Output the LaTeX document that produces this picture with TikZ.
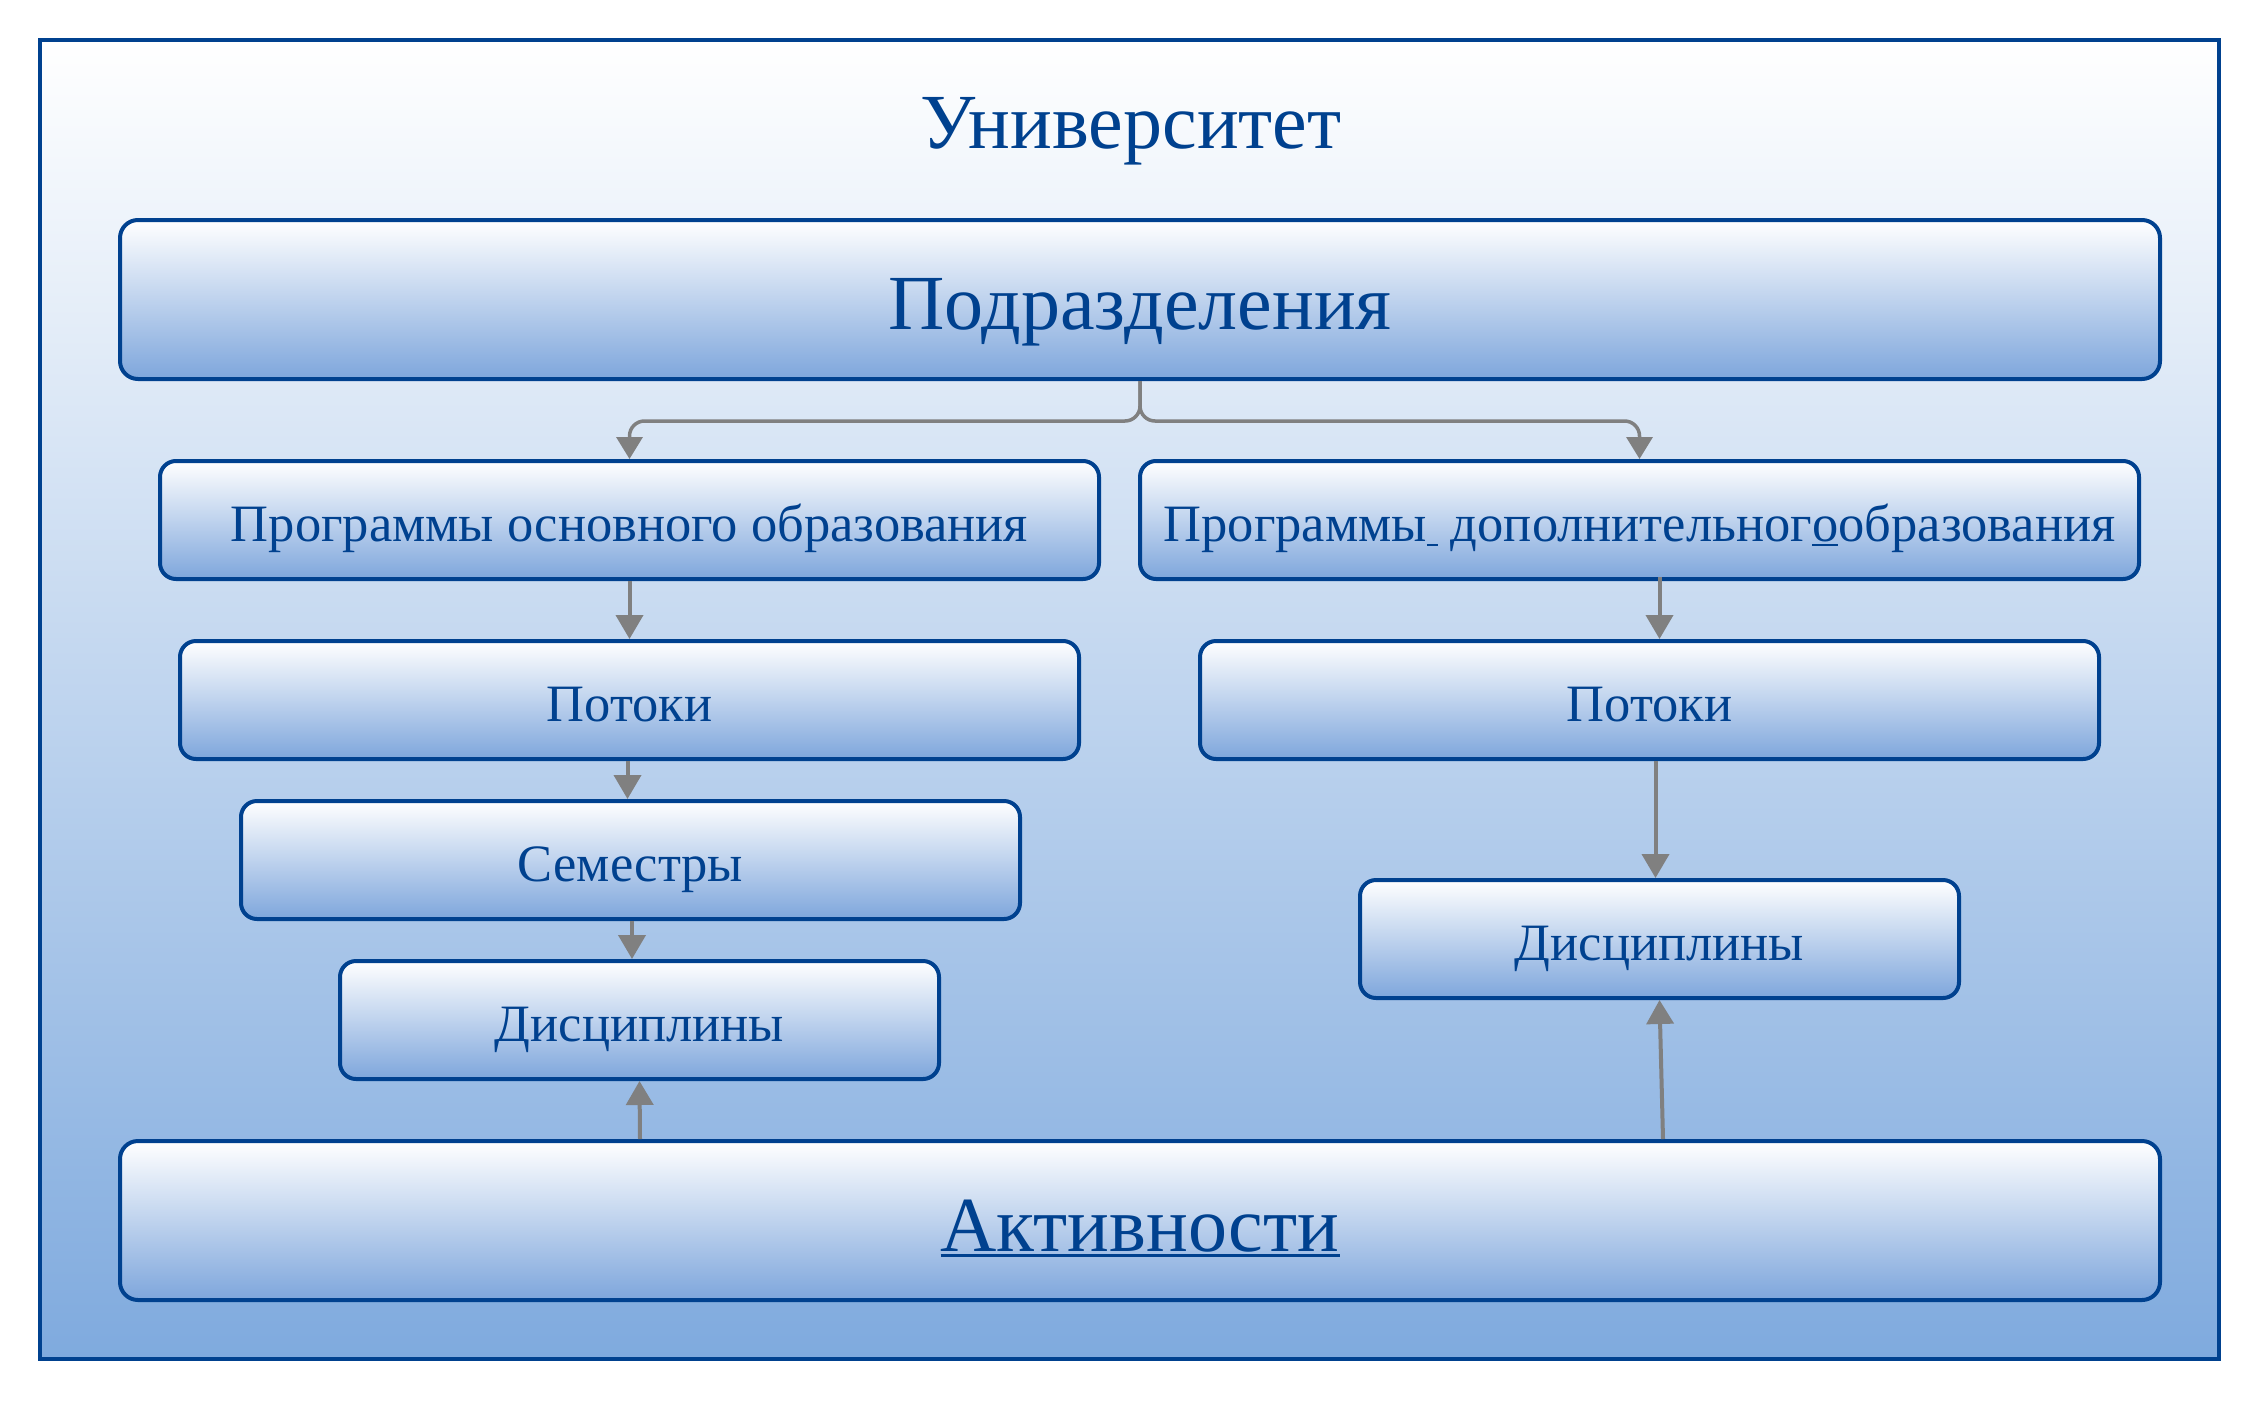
\documentclass[tikz,border=0pt]{standalone}
\usepackage{fontspec}
\setmainfont{Liberation Serif}
\usetikzlibrary{arrows.meta}
\definecolor{bdark}{RGB}{0,65,143}
\definecolor{bshade}{RGB}{126,166,220}
\definecolor{fshade}{RGB}{127,170,222}
\definecolor{conn}{RGB}{128,128,128}
\newcommand\bigf{\fontsize{78}{90}\selectfont}
\newcommand\smallf{\fontsize{52.5}{62}\selectfont}
\newcommand\myulbig[1]{\setbox0=\hbox{#1}\rlap{\rule[-5pt]{\wd0}{2.5pt}}\box0}
\newcommand\myulsmall[1]{\setbox0=\hbox{#1}\rlap{\rule[-4pt]{\wd0}{2pt}}\box0}
\tikzset{
  frame/.style={draw=bdark, line width=4pt, top color=white, bottom color=fshade, inner sep=0pt},
  bigbox/.style={draw=bdark, line width=4pt, rounded corners=18pt, top color=white, bottom color=bshade,
    inner sep=0pt, text=bdark, font=\bigf, text height=60pt, text depth=0pt},
  smallbox/.style={draw=bdark, line width=4pt, rounded corners=16pt, top color=white, bottom color=bshade,
    inner sep=0pt, text=bdark, font=\smallf, text height=43pt, text depth=0pt},
  titletext/.style={text=bdark, font=\bigf, inner sep=0pt, text height=51.6pt, text depth=0pt},
  arr/.style={draw=conn, line width=4pt, -{Triangle[width=27pt,length=24pt]}},
  brace/.style={draw=conn, line width=3.5pt, rounded corners=15pt, -{Triangle[width=26pt,length=22pt]}}
}
\begin{document}
\begin{tikzpicture}[x=1pt,y=-1pt]
\useasboundingbox (0,0) rectangle (2259,1400);
\node[frame, minimum width=2179pt, minimum height=1319pt] (univ) at (1129.5,699.5) {};
\node[titletext] (title) at (1131,123) {Университет};
\node[bigbox, minimum width=2040pt, minimum height=159pt] (pod) at (1140,299.5) {Подразделения};
\node[smallbox, minimum width=939pt, minimum height=118pt] (pl) at (629.5,520) {Программы основного образования};
\node[smallbox, minimum width=999pt, minimum height=118pt] (pr) at (1639.5,520) {Программы\myulsmall{\hspace*{11pt}}\ дополнительног\myulsmall{о}образования};
\node[smallbox, minimum width=899pt, minimum height=118pt] (potl) at (629.5,700) {Потоки};
\node[smallbox, minimum width=899pt, minimum height=118pt] (potr) at (1649.5,700) {Потоки};
\node[smallbox, minimum width=779pt, minimum height=118pt] (sem) at (630.5,860) {Семестры};
\node[smallbox, minimum width=599pt, minimum height=118pt] (dl) at (639.5,1020) {Дисциплины};
\node[smallbox, minimum width=599pt, minimum height=118pt] (dr) at (1659.5,939) {Дисциплины};
\node[bigbox, minimum width=2040pt, minimum height=159pt, text height=62pt] (act) at (1140,1220.5) {\myulbig{Активности}};
% connectors
\draw[brace] (pod.south) -- ++(0,40) -| (pl.north);
\draw[brace] (pod.south) -- ++(0,40) -| (pr.north);
\draw[arr] (pl.south) -- (potl.north);
\draw[arr] ([xshift=-2pt]potl.south) -- ([xshift=-3pt]sem.north);
\draw[arr] ([xshift=1.5pt]sem.south) -- ([xshift=-7.5pt]dl.north);
\draw[arr] ([xshift=20pt,yshift=4pt]pr.south) -- ([xshift=10pt]potr.north);
\draw[arr] ([xshift=6pt]potr.south) -- ([xshift=-4pt]dr.north);
\draw[arr] ([xshift=-500pt]act.north) -- (dl.south);
\draw[arr] ([xshift=523pt]act.north) -- (dr.south);
\end{tikzpicture}
\end{document}
